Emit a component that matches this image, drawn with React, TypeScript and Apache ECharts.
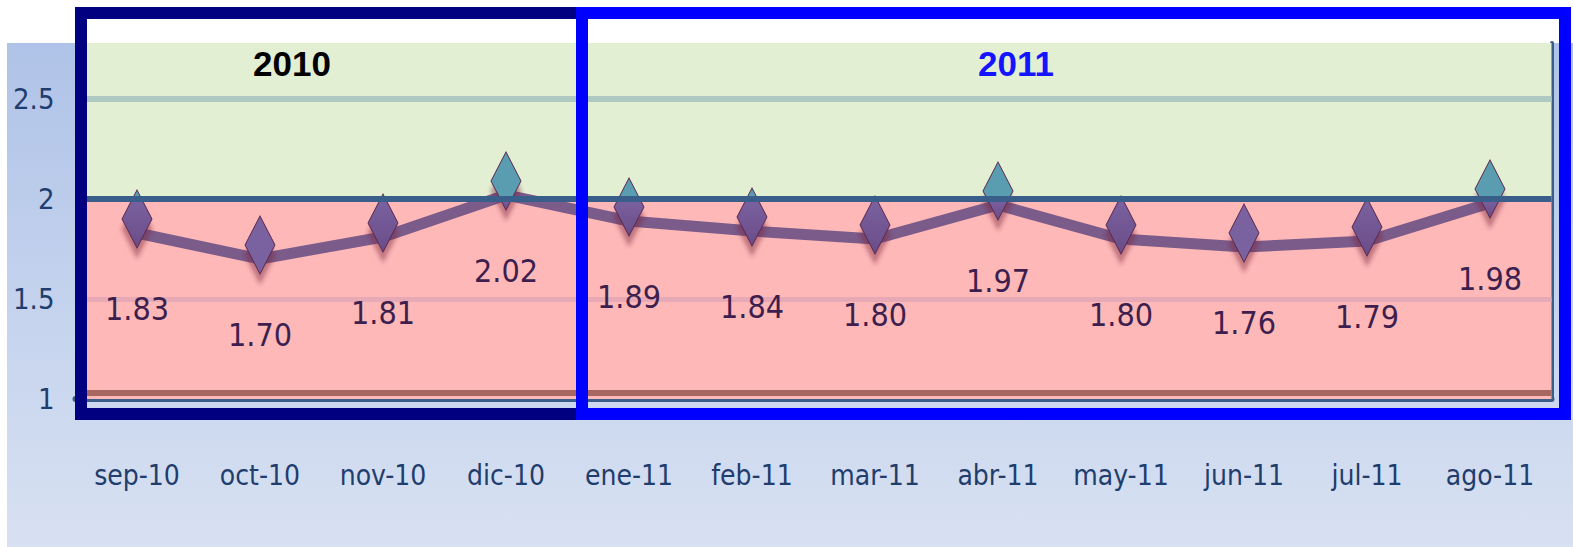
import React, { useEffect, useRef } from "react";
import * as echarts from "echarts";

const categories = ["sep-10", "oct-10", "nov-10", "dic-10", "ene-11", "feb-11", "mar-11", "abr-11", "may-11", "jun-11", "jul-11", "ago-11"];
const values = [1.83, 1.7, 1.81, 2.02, 1.89, 1.84, 1.8, 1.97, 1.8, 1.76, 1.79, 1.98];
const yTicks = [1, 1.5, 2, 2.5];
const threshold = 2;
const yMin = 1;
const yMax = 2.78;
const yearTitles = ["2010", "2011"];

const NARROW = '"Liberation Sans Narrow","Arial Narrow","DejaVu Sans Condensed","Roboto Condensed",sans-serif';

export default function App() {
  const ref = useRef<HTMLDivElement>(null);

  useEffect(() => {
    document.body.style.margin = "0";
    const chart = echarts.init(ref.current!, null, { renderer: "svg" });

    const gridTop = 43;
    const gridBottom = 148;
    const plotH = 547 - gridTop - gridBottom;
    const pxPerUnit = plotH / (yMax - yMin);
    const symH = 58;
    const symOff = -14;
    const teal = "#5a9db0";
    const purple = "#7a62a0";

    const pointData = values.map((v) => {
      const topFromThreshold = -symOff + symH / 2 - (threshold - v) * pxPerUnit;
      const f = Math.max(0, Math.min(1, topFromThreshold / symH));
      const color =
        f <= 0
          ? purple
          : new echarts.graphic.LinearGradient(0, 0, 0, 1, [
              { offset: 0, color: teal },
              { offset: f, color: teal },
              { offset: f, color: purple },
              { offset: 1, color: "#6a4c88" },
            ]);
      return { value: v, itemStyle: { color } };
    });

    const empty = categories.map(() => "-");

    chart.setOption({
      animation: false,
      grid: { left: 75.5, right: 21.5, top: gridTop, bottom: gridBottom, containLabel: false },
      xAxis: {
        type: "category",
        data: categories,
        boundaryGap: true,
        axisLine: { show: true, lineStyle: { color: "#3a5e8a", width: 6 } },
        axisTick: { show: false },
        axisLabel: { color: "#1f3d6d", fontSize: 28, fontFamily: NARROW, margin: 62, interval: 0 },
        splitLine: { show: false },
      },
      yAxis: [
        {
          type: "value",
          min: yMin,
          max: yMax,
          interval: 0.5,
          axisLine: { show: false },
          axisTick: { show: false },
          splitLine: { show: false },
          axisLabel: {
            color: "#1f3d6d",
            fontSize: 29,
            fontFamily: NARROW,
            margin: 21,
            showMaxLabel: false,
            formatter: (v: number) => (yTicks.includes(v) ? String(v) : ""),
          },
        },
        {
          type: "value",
          position: "right",
          min: yMin,
          max: yMax,
          interval: 0.5,
          axisLine: { show: true, lineStyle: { color: "#3a5e8a", width: 4 } },
          axisTick: { show: false },
          axisLabel: { show: false },
          splitLine: { show: false },
        },
      ],
      graphic: [
        {
          type: "rect",
          z: -10,
          silent: true,
          shape: { x: 7, y: 43, width: 1566, height: 504 },
          style: {
            fill: new echarts.graphic.LinearGradient(0, 0, 0, 1, [
              { offset: 0, color: "#afc3e8" },
              { offset: 1, color: "#d8e1f2" },
            ]),
          },
        },
        {
          type: "rect",
          z: -5,
          silent: true,
          shape: { x: 89, y: 19, width: 1470, height: 24 },
          style: { fill: "#ffffff" },
        },
        {
          type: "rect",
          z: 100,
          silent: true,
          shape: { x: 81, y: 13, width: 501, height: 401 },
          style: { fill: "none", stroke: "#000080", lineWidth: 12 },
        },
        {
          type: "rect",
          z: 101,
          silent: true,
          shape: { x: 582, y: 13, width: 983, height: 401 },
          style: { fill: "none", stroke: "#0000ff", lineWidth: 12 },
        },
        {
          type: "text",
          z: 102,
          x: 292,
          y: 63,
          style: {
            text: yearTitles[0],
            fill: "#000000",
            font: 'bold 35px "Liberation Sans", Arial, sans-serif',
            textAlign: "center",
            textVerticalAlign: "middle",
          },
        },
        {
          type: "text",
          z: 102,
          x: 1016,
          y: 63,
          style: {
            text: yearTitles[1],
            fill: "#1414ff",
            font: 'bold 35px "Liberation Sans", Arial, sans-serif',
            textAlign: "center",
            textVerticalAlign: "middle",
          },
        },
      ],
      series: [
        {
          name: "bands",
          type: "line",
          data: empty,
          z: 1,
          silent: true,
          symbol: "none",
          markArea: {
            silent: true,
            z: 1,
            data: [
              [{ yAxis: yMin, itemStyle: { color: "#fdb8b7" } }, { yAxis: threshold }],
              [{ yAxis: threshold, itemStyle: { color: "#e2efd3" } }, { yAxis: yMax }],
            ],
          },
        },
        {
          name: "gridlines",
          type: "line",
          data: empty,
          z: 2,
          silent: true,
          symbol: "none",
          markLine: {
            silent: true,
            z: 2,
            symbol: "none",
            label: { show: false },
            data: [
              { yAxis: 2.5, lineStyle: { color: "#aec9c1", width: 6, type: "solid" } },
              { yAxis: 1.5, lineStyle: { color: "#e6a9b5", width: 5, type: "solid" } },
              { yAxis: 1.03, lineStyle: { color: "#a86661", width: 6, type: "solid" } },
            ],
          },
        },
        {
          name: "valor",
          type: "line",
          data: pointData,
          z: 3,
          symbol: "diamond",
          symbolSize: [30, symH],
          symbolOffset: [0, symOff],
          lineStyle: { color: "#7a5b8a", width: 11 },
          itemStyle: {
            borderColor: "#5a2a50",
            borderWidth: 1,
            shadowColor: "rgba(120,40,60,0.45)",
            shadowBlur: 4,
            shadowOffsetY: 10,
          },
          label: {
            show: true,
            position: "bottom",
            distance: 44,
            color: "#3d1f4f",
            fontSize: 32,
            fontFamily: NARROW,
            formatter: (p: any) => Number(p.value).toFixed(2),
          },
        },
        {
          name: "level",
          type: "line",
          data: empty,
          z: 4,
          silent: true,
          symbol: "none",
          markLine: {
            silent: true,
            z: 10,
            symbol: "none",
            label: { show: false },
            data: [{ yAxis: threshold, lineStyle: { color: "#3a5e8a", width: 6, type: "solid" } }],
          },
        },
      ],
    });

    return () => chart.dispose();
  }, []);

  return <div ref={ref} style={{ width: 1573, height: 547 }} />;
}
